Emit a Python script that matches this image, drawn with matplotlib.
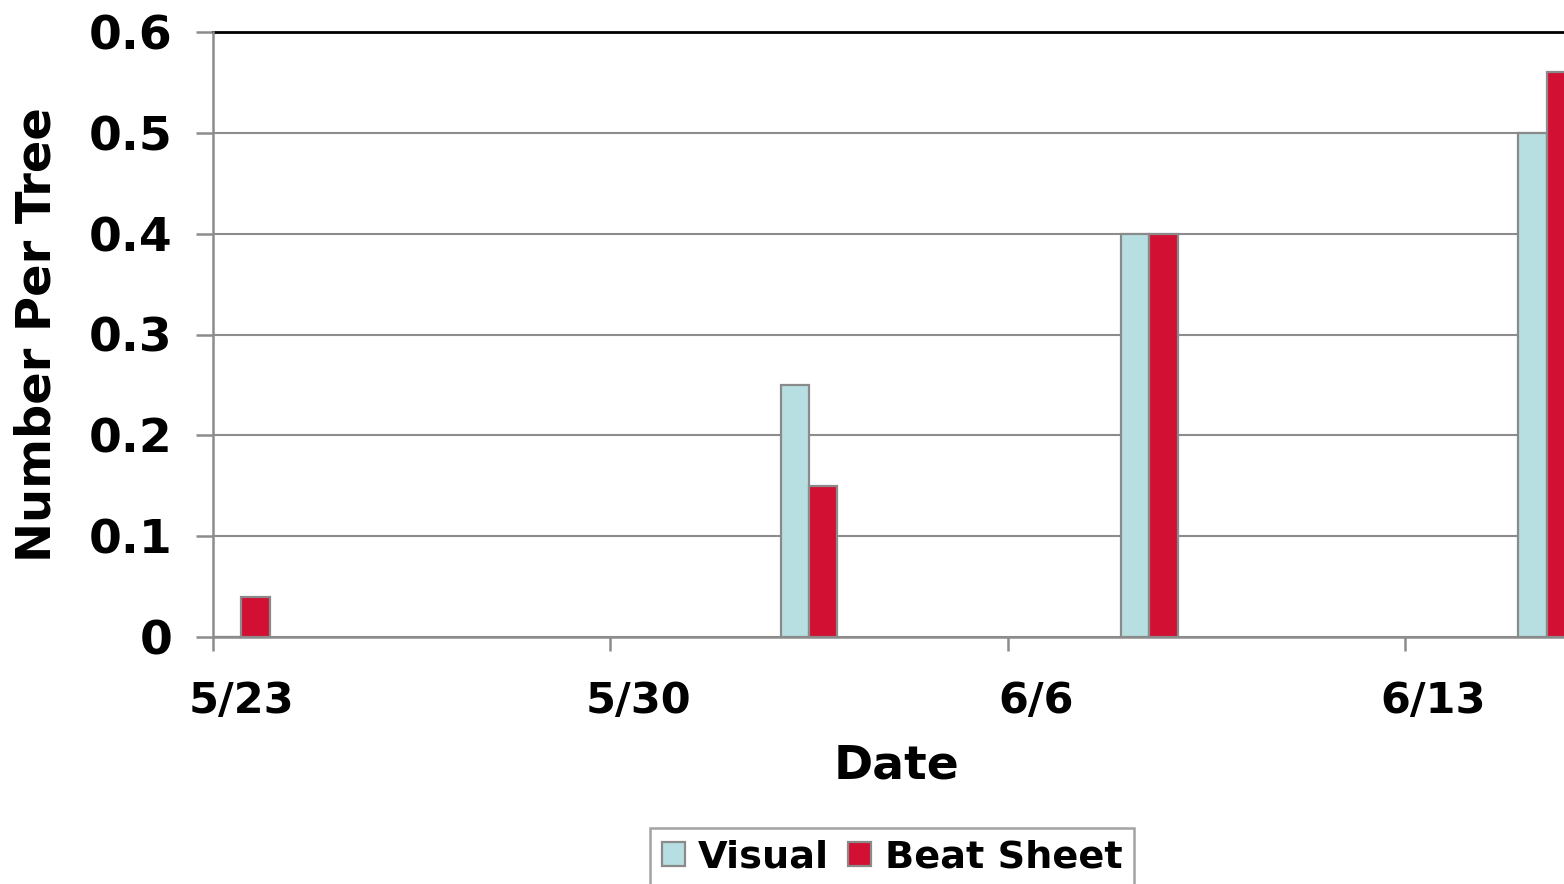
import matplotlib
matplotlib.use("Agg")
import matplotlib.pyplot as plt
import numpy as np

# Data (day offsets from 5/23)
tick_labels = ["5/23", "5/30", "6/6", "6/13"]
tick_days = [0, 7, 14, 21]
sample_days = [0, 10, 16, 23]          # 5/23, 6/2, 6/8, 6/15
visual = [0.0, 0.25, 0.40, 0.50]
beat_sheet = [0.04, 0.15, 0.40, 0.56]
series_names = ["Visual", "Beat Sheet"]

W, H = 1564, 884
fig = plt.figure(figsize=(W / 100, H / 100), dpi=100)
plt.rcParams['font.family'] = ['DejaVu Sans']

x0, x1 = 213, 1575
y0, y1 = 637, 32
ax = fig.add_axes([x0 / W, (H - y0) / H, (x1 - x0) / W, (y0 - y1) / H])

grid_c = "#8c8c8c"
edge_c = "#8a8a8a"
c_vis = "#B7DFE2"
c_beat = "#D21034"

days = np.array(sample_days, dtype=float)
bw = 0.5
ax.bar(days, visual, width=bw, align="edge", color=c_vis, edgecolor=edge_c, linewidth=1.6, zorder=3, label=series_names[0])
ax.bar(days + bw, beat_sheet, width=bw, align="edge", color=c_beat, edgecolor=edge_c, linewidth=1.6, zorder=3, label=series_names[1])

ax.set_xlim(0, 24)
ax.set_ylim(0, 0.6)
ax.set_yticks([0, 0.1, 0.2, 0.3, 0.4, 0.5, 0.6])
ax.set_yticklabels(["0", "0.1", "0.2", "0.3", "0.4", "0.5", "0.6"], fontsize=34, fontweight="bold")
ax.yaxis.grid(True, color=grid_c, linewidth=1.5, zorder=0)
ax.set_axisbelow(True)

ax.set_xticks(tick_days)
ax.set_xticklabels([])
ax.set_xticks([d + 0.5 for d in tick_days], minor=True)
ax.set_xticklabels(tick_labels, minor=True, fontsize=31, fontweight="bold")
ax.tick_params(axis="x", which="major", direction="out", length=10, width=1.8, color=grid_c)
ax.tick_params(axis="x", which="minor", length=0, pad=31)
ax.tick_params(axis="y", direction="out", length=12, width=1.8, color=grid_c, pad=17)

for s in ["left", "bottom"]:
    ax.spines[s].set_color(grid_c)
    ax.spines[s].set_linewidth(1.8)
ax.spines["right"].set_visible(False)
ax.spines["top"].set_color("black")
ax.spines["top"].set_linewidth(2)
ax.spines["left"].set_zorder(4)

fig.text(37 / W, 1 - 335 / H, "Number Per Tree", rotation=90, ha="center", va="center",
         fontsize=34.5, fontweight="bold")
fig.text(896 / W, 1 - 766 / H, "Date", ha="center", va="center", fontsize=34, fontweight="bold")

leg = fig.legend(loc="upper center", bbox_to_anchor=(892 / W, 1 - 828 / H), ncol=2,
                 prop={"size": 27.5, "weight": "bold"}, frameon=True, fancybox=False,
                 handlelength=0.6, handleheight=0.6, handletextpad=0.35, columnspacing=0.5,
                 borderpad=0.3, borderaxespad=0)
leg.get_frame().set_edgecolor(grid_c)
leg.get_frame().set_linewidth(1.8)

fig.savefig("out.png", dpi=100)
